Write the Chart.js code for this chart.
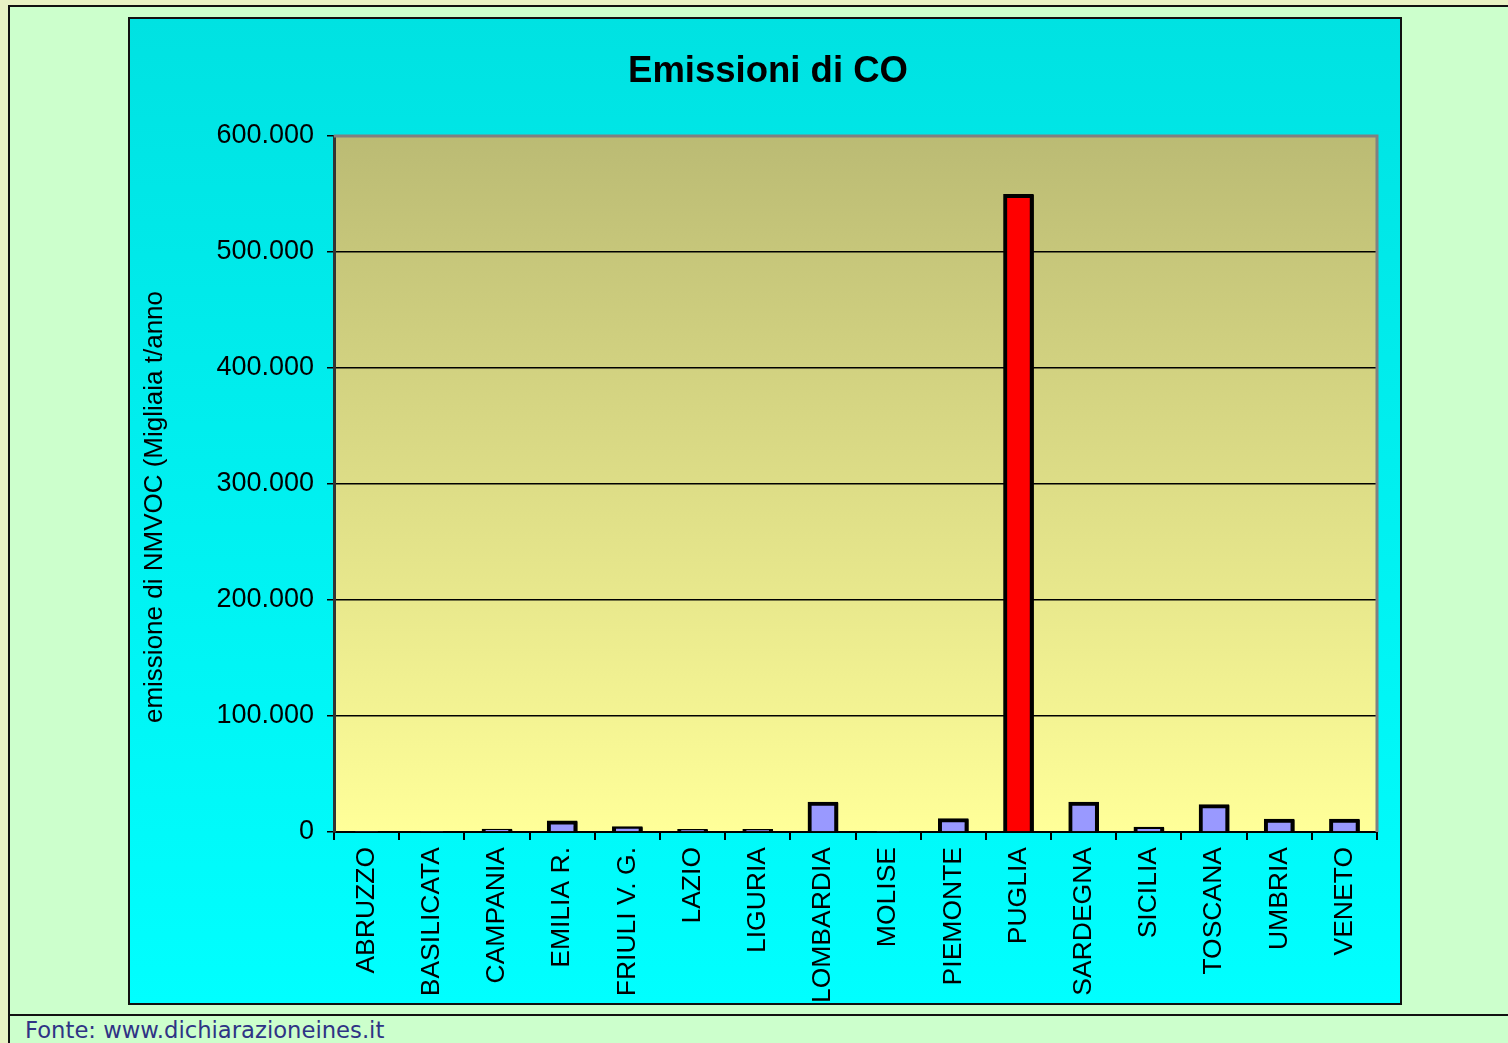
<!DOCTYPE html>
<html lang="it">
<head>
  <meta charset="UTF-8" />
  <title>Emissioni di CO</title>
  <script src="https://cdn.jsdelivr.net/npm/chart.js"></script>
  <style>
    body {
      margin: 0;
      width: 1508px;
      height: 1043px;
      overflow: hidden;
      background-color: #e8f2c4; /* pale beige edge */
      font-family: "Liberation Sans", Arial, sans-serif;
    }

    .frame {
      position: absolute;
      left: 8px;
      top: 5px;
      width: 1510px;
      height: 1050px;
      border: 2px solid #111;
      background-color: #ccffcc;
    }

    .panel {
      position: absolute;
      left: 128px;
      top: 17px;
      width: 1270px;
      height: 984px;
      border: 2px solid #111;
      background: linear-gradient(to bottom, #00e2e2, #00ffff);
    }

    .rule {
      position: absolute;
      left: 8px;
      top: 1014px;
      width: 1510px;
      border-top: 2px solid #111;
    }

    .fonte {
      position: absolute;
      left: 25px;
      top: 1017px;
      font-family: "DejaVu Sans", sans-serif;
      font-size: 22.7px;
      color: #2f3385;
    }
  </style>
</head>
<body>

<div class="frame"></div>
<div class="panel"><canvas id="coChart" width="1270" height="984"></canvas></div>
<div class="rule"></div>
<div class="fonte">Fonte: www.dichiarazioneines.it</div>

<script>
// regioni e valori (t/anno)
const regioni = ['ABRUZZO', 'BASILICATA', 'CAMPANIA', 'EMILIA R.', 'FRIULI V. G.', 'LAZIO',
  'LIGURIA', 'LOMBARDIA', 'MOLISE', 'PIEMONTE', 'PUGLIA', 'SARDEGNA', 'SICILIA',
  'TOSCANA', 'UMBRIA', 'VENETO'];
const emissioni = [300, 200, 2800, 10000, 5000, 2500, 2500, 26000, 200, 11800, 550000,
  26000, 4500, 24000, 11500, 11500];
const yTicks = [0, 100000, 200000, 300000, 400000, 500000, 600000];
const evidenziata = 'PUGLIA';
const titolo = 'Emissioni di CO';
const titoloY = 'emissione di NMVOC (Migliaia t/anno';

// formato italiano: 100.000
function fmt(v) {
  return String(v).replace(/\B(?=(\d{3})+(?!\d))/g, '.');
}

// sfondo sfumato dell'area del grafico, bordo grigio, titoli
const plotArea = {
  id: 'plotArea',
  beforeDraw(chart) {
    const { ctx, chartArea: a } = chart;
    const g = ctx.createLinearGradient(0, a.top, 0, a.bottom);
    g.addColorStop(0, '#bbbb74');
    g.addColorStop(1, '#ffff99');
    ctx.save();
    ctx.fillStyle = g;
    ctx.fillRect(a.left, a.top, a.right - a.left, a.bottom - a.top);
    ctx.restore();
  },
  beforeDatasetsDraw(chart) {
    const ctx = chart.ctx;
    ctx.save();
    ctx.shadowColor = '#000';
    ctx.shadowOffsetX = 2;
    ctx.shadowOffsetY = 1;
    ctx.shadowBlur = 0;
  },
  afterDatasetsDraw(chart) {
    chart.ctx.restore();
  },
  afterDraw(chart) {
    const { ctx, chartArea: a } = chart;
    ctx.save();
    ctx.strokeStyle = '#808080';
    ctx.lineWidth = 3;
    ctx.beginPath();
    ctx.moveTo(a.left, a.top);
    ctx.lineTo(a.right, a.top);
    ctx.lineTo(a.right, a.bottom);
    ctx.stroke();

    ctx.fillStyle = '#000';
    ctx.textAlign = 'center';
    ctx.textBaseline = 'middle';
    ctx.font = 'bold 36.5px "Liberation Sans", Arial';
    ctx.fillText(titolo, 638, 53);

    ctx.translate(25, 488);
    ctx.rotate(-Math.PI / 2);
    ctx.font = '26px "Liberation Sans", Arial';
    ctx.fillText(titoloY, 0, 0);
    ctx.restore();
  }
};

const ctx = document.getElementById('coChart').getContext('2d');
new Chart(ctx, {
  type: 'bar',
  data: {
    labels: regioni,
    datasets: [{
      data: emissioni,
      backgroundColor: c => regioni[c.dataIndex] === evidenziata ? '#ff0000' : '#9999ff',
      borderColor: '#000',
      borderWidth: 4,
      borderSkipped: 'bottom',
      categoryPercentage: 1,
      barPercentage: 0.47
    }]
  },
  options: {
    responsive: false,
    animation: false,
    layout: { padding: { left: 0, right: 23, top: 117, bottom: 0 } },
    plugins: {
      legend: { display: false },
      tooltip: { enabled: false },
      title: { display: false }
    },
    scales: {
      x: {
        afterFit: s => { s.height = 171; },
        grid: {
          drawOnChartArea: false,
          color: '#000',
          tickLength: 8,
          lineWidth: 2,
          offset: true
        },
        border: { color: '#000', width: 2 },
        ticks: {
          color: '#000',
          minRotation: 90,
          maxRotation: 90,
          autoSkip: false,
          padding: 7,
          font: { family: 'Liberation Sans, Arial', size: 26.5 }
        }
      },
      y: {
        min: 0,
        max: 600000,
        afterFit: s => { s.width = 204; },
        afterBuildTicks: s => { s.ticks = yTicks.map(v => ({ value: v })); },
        grid: {
          color: '#000',
          lineWidth: 1.5,
          tickLength: 7
        },
        border: { color: '#333', width: 3 },
        ticks: {
          color: '#000',
          padding: 13,
          font: { family: 'Liberation Sans, Arial', size: 27 },
          callback: v => fmt(v)
        }
      }
    }
  },
  plugins: [plotArea]
});
</script>

</body>
</html>
